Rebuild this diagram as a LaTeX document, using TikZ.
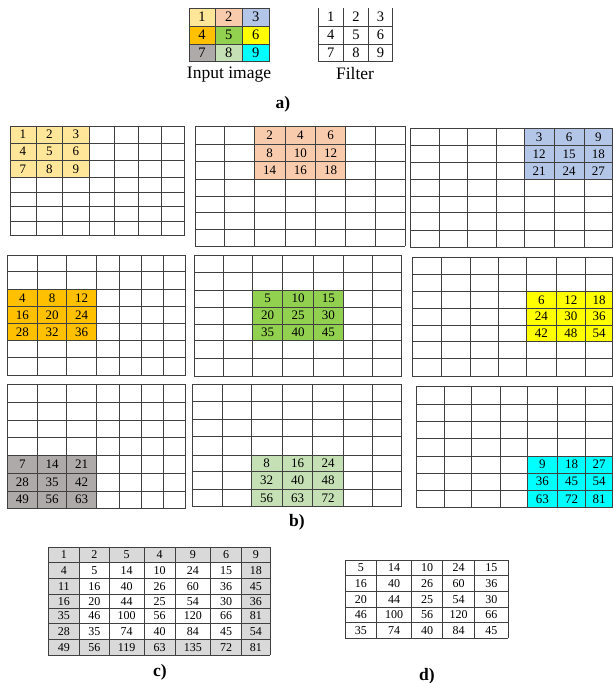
\documentclass[tikz,border=0pt]{standalone}
\usepackage{fontspec}
\setmainfont{Liberation Serif}
\usetikzlibrary{calc}

\definecolor{cone}{HTML}{FFE699}
\definecolor{ctwo}{HTML}{F8CBAD}
\definecolor{cthree}{HTML}{B4C6E7}
\definecolor{cfour}{HTML}{FFC000}
\definecolor{cfive}{HTML}{92D050}
\definecolor{csix}{HTML}{FFFF00}
\definecolor{cseven}{HTML}{AEAAAA}
\definecolor{ceight}{HTML}{C5E0B4}
\definecolor{cnine}{HTML}{00FFFF}
\definecolor{cborder}{HTML}{D9D9D9}

% column / row positions of a table
\newcommand{\gridcoords}[3]{%
  \foreach \xv [count=\i from 0] in {#2} \coordinate (#1x\i) at (\xv,0);
  \foreach \yv [count=\j from 0] in {#3} \coordinate (#1y\j) at (0,\yv);
}
% all rules of a table
\newcommand{\gridlines}[3]{%
  \foreach \i in {0,...,#2} \draw[gridline] (#1x\i |- #1y0) -- (#1x\i |- #1y#3);
  \foreach \j in {0,...,#3} \draw[gridline] (#1x0 |- #1y\j) -- (#1x#2 |- #1y\j);
}
% numbers, row by row, starting at a given cell
\newcommand{\gridvalues}[6]{%
  \foreach \v [count=\k from 0] in {#5} {
    \pgfmathtruncatemacro\cc{#2+mod(\k,#4)}
    \pgfmathtruncatemacro\rr{#3+int(\k/#4)}
    \pgfmathtruncatemacro\cn{\cc+1}
    \pgfmathtruncatemacro\rn{\rr+1}
    \node[#6] (#1v\k) at ($(#1x\cc |- #1y\rr)!0.5!(#1x\cn |- #1y\rn)$) {\v};
  }
}
% one 7x7 map of part b)
\newcommand{\featuremap}[7]{%
  \gridcoords{#1}{#2}{#3}
  \pgfmathtruncatemacro\ce{#4+3}
  \pgfmathtruncatemacro\re{#5+3}
  \fill[#6] (#1x#4 |- #1y#5) rectangle (#1x\ce |- #1y\re);
  \gridlines{#1}{7}{7}
  \gridvalues{#1}{#4}{#5}{3}{#7}{mapnum}
}

\begin{document}
\begin{tikzpicture}[x=1pt, y=-1pt]
    % Styles
    \tikzstyle{gridline} = [draw=black!75, line width=0.85pt]
    \tikzstyle{smallnum} = [inner sep=0pt, font=\fontsize{14.5}{14.5}\selectfont]
    \tikzstyle{mapnum} = [inner sep=0pt, font=\fontsize{13}{13}\selectfont]
    \tikzstyle{tablenum} = [inner sep=0pt, font=\fontsize{12}{12}\selectfont]
    \tikzstyle{sublabel} = [inner sep=0pt, font=\fontsize{17.5}{17.5}\selectfont]
    \tikzstyle{partlabel} = [inner sep=0pt, font=\fontsize{17.5}{17.5}\selectfont\bfseries]

    \useasboundingbox (0,0) rectangle (613,683);

    % === a) Input image and filter ===
    \gridcoords{in}{189,215,242.3,269}{8.3,26,44,61.7}
    \foreach \col [count=\k from 0] in {cone,ctwo,cthree,cfour,cfive,csix,cseven,ceight,cnine} {
        \pgfmathtruncatemacro\cc{mod(\k,3)}
        \pgfmathtruncatemacro\rr{int(\k/3)}
        \pgfmathtruncatemacro\cn{\cc+1}
        \pgfmathtruncatemacro\rn{\rr+1}
        \fill[\col] (inx\cc |- iny\rr) rectangle (inx\cn |- iny\rn);
    }
    \gridlines{in}{3}{3}
    \gridvalues{in}{0}{0}{3}{1,2,3,4,5,6,7,8,9}{smallnum}

    \gridcoords{fl}{318,343.7,368.3,392.7}{8,26,44,61}
    \foreach \i in {0,...,3} \draw[gridline] (flx\i |- fly0) -- (flx\i |- fly3);
    \foreach \j in {1,...,3} \draw[gridline] (flx0 |- fly\j) -- (flx3 |- fly\j);
    \gridvalues{fl}{0}{0}{3}{1,2,3,4,5,6,7,8,9}{smallnum}

    \node[sublabel] (inlabel) at (229,75) {Input image};
    \node[sublabel] (fllabel) at (355,74) {Filter};
    \node[partlabel] (parta) at (283,104) {a)};

    % === b) Input value times filter ===
    \featuremap{ga}{10,36,62.7,89,114,138,161,184}{126,143,160,177.7,192.2,206.7,221.2,235.7}{0}{0}{cone}{1,2,3,4,5,6,7,8,9}
    \featuremap{gb}{195,224.3,254,285,315.7,345.7,375.7,405}{126,144,161.7,179.3,196,212.7,229.3,246}{2}{0}{ctwo}{2,4,6,8,10,12,14,16,18}
    \featuremap{gc}{410,439.3,467.7,496.7,524.3,554,584.3,612.5}{128.3,145.7,162.3,179.3,196,212.7,230,247.3}{4}{0}{cthree}{3,6,9,12,15,18,21,24,27}
    \featuremap{gd}{7.3,37.3,66.7,96.7,119,141.7,163.3,185.7}{255,271.7,289.3,306.7,323.3,340.7,357.3,375}{0}{2}{cfour}{4,8,12,16,20,24,28,32,36}
    \featuremap{ge}{194,223.3,252.7,282.7,313.3,343.3,372.7,401.7}{255,272.7,290,307.3,324,340.7,358.3,376}{2}{2}{cfive}{5,10,15,20,25,30,35,40,45}
    \featuremap{gf}{412.3,441,470,498.3,526.7,556,585.7,612.5}{257.3,274,291.7,308.3,325,341.7,358.3,376}{4}{2}{csix}{6,12,18,24,30,36,42,48,54}
    \featuremap{gg}{7.3,37.3,66.7,96.7,119,141.7,163.3,185.7}{384.3,402.7,420,437.7,455.7,473.3,491,508.3}{0}{4}{cseven}{7,14,21,28,35,42,49,56,63}
    \featuremap{gh}{192.7,222.3,251,282.3,312.7,343.3,372.7,401.7}{384.3,401.7,419.3,436.7,455,471.7,489.3,506.7}{2}{4}{ceight}{8,16,24,32,40,48,56,63,72}
    \featuremap{gi}{416,444,471.7,500,527.3,557.3,585.7,612.5}{386.7,404.3,421.7,438.3,456,473.3,490,507.7}{4}{4}{cnine}{9,18,27,36,45,54,63,72,81}

    \node[partlabel] (partb) at (297,522) {b)};

    % === c) Sum of the maps ===
    \gridcoords{sm}{48.3,79.3,109.3,144,175,210.7,241.7,270}{547.3,562.7,578.3,594,608.7,623.3,639.3,655}
    \fill[cborder] (smx0 |- smy0) rectangle (smx7 |- smy7);
    \fill[white] (smx1 |- smy1) rectangle (smx6 |- smy6);
    \gridlines{sm}{7}{7}
    \gridvalues{sm}{0}{0}{7}{1,2,5,4,9,6,9,
        4,5,14,10,24,15,18,
        11,16,40,26,60,36,45,
        16,20,44,25,54,30,36,
        35,46,100,56,120,66,81,
        28,35,74,40,84,45,54,
        49,56,119,63,135,72,81}{tablenum}
    \node[partlabel] (partc) at (160,672) {c)};

    % === d) Cropped output ===
    \gridcoords{out}{345,376.7,411.7,442.7,474.3,508.3}{560,575.7,591.3,607,622.7,638.3}
    \gridlines{out}{5}{5}
    \gridvalues{out}{0}{0}{5}{5,14,10,24,15,
        16,40,26,60,36,
        20,44,25,54,30,
        46,100,56,120,66,
        35,74,40,84,45}{tablenum}
    \node[partlabel] (partd) at (427,676) {d)};

\end{tikzpicture}
\end{document}
